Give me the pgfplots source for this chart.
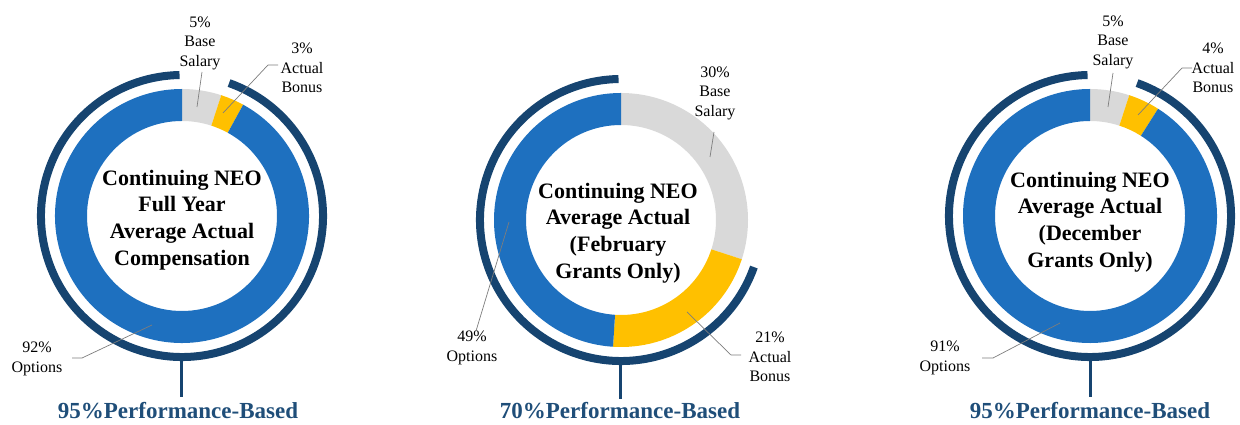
\documentclass[border=0pt]{standalone}
\usepackage{pgfplots}
\usepackage{pgfplotstable}
\pgfplotsset{compat=1.18}
\usepackage{fontspec}
\setmainfont{Liberation Serif}

\definecolor{cblue}{RGB}{30,112,191}
\definecolor{cnavy}{RGB}{22,68,112}
\definecolor{cgray}{RGB}{217,217,217}
\definecolor{cgold}{RGB}{255,192,0}
\definecolor{ctext}{RGB}{31,78,121}
\definecolor{cline}{RGB}{125,125,125}

% shares (percent): Base Salary, Actual Bonus, Options
\pgfplotstableread{
part value
Salary 5
Bonus 3
Options 92
}\dataA
\pgfplotstableread{
part value
Salary 30
Bonus 21
Options 49
}\dataB
\pgfplotstableread{
part value
Salary 5
Bonus 4
Options 91
}\dataC

\newcommand\angles[3]{% table, name a, name b
  \pgfplotstablegetelem{0}{value}\of{#1}\pgfmathsetmacro\tmpS{\pgfplotsretval}%
  \pgfplotstablegetelem{1}{value}\of{#1}\pgfmathsetmacro\tmpB{\pgfplotsretval}%
  \pgfmathsetmacro#2{90-3.6*\tmpS}%
  \pgfmathsetmacro#3{90-3.6*(\tmpS+\tmpB)}%
}

% cx, cy, angle a, angle b
\newcommand\donut[4]{%
  \fill[cgray] ([shift={(90:127pt)}]axis cs:#1,#2) arc[start angle=90, end angle=#3, radius=127pt]
     -- ([shift={(#3:95pt)}]axis cs:#1,#2) arc[start angle=#3, end angle=90, radius=95pt] -- cycle;
  \fill[cgold] ([shift={(#3:127pt)}]axis cs:#1,#2) arc[start angle=#3, end angle=#4, radius=127pt]
     -- ([shift={(#4:95pt)}]axis cs:#1,#2) arc[start angle=#4, end angle=#3, radius=95pt] -- cycle;
  \fill[cblue] ([shift={(#4:127pt)}]axis cs:#1,#2) arc[start angle=#4, end angle=-270, radius=127pt]
     -- ([shift={(-270:95pt)}]axis cs:#1,#2) arc[start angle=-270, end angle=#4, radius=95pt] -- cycle;
  \draw[cnavy, line width=8pt] ([shift={({#3-1.5}:141pt)}]axis cs:#1,#2) arc[start angle={#3-1.5}, end angle=-269, radius=141pt];
}

\begin{document}
\begin{tikzpicture}
\angles{\dataA}{\Aa}{\Ab}
\angles{\dataB}{\Ba}{\Bb}
\angles{\dataC}{\Ca}{\Cb}
\begin{axis}[x=1pt, y=1pt, xmin=0, xmax=1240, ymin=0, ymax=425,
  hide axis, clip=false,
  every node/.append style={inner sep=0pt, outer sep=0pt}]
\path (axis cs:0,0) rectangle (axis cs:1240,425);

% ---------- chart 1
\donut{182}{209}{\Aa}{\Ab}
\draw[cnavy, line width=3pt] (axis cs:181,64) -- (axis cs:181,28);
\node[font=\bfseries\fontsize{22}{26.7}\selectfont, align=center] at (axis cs:182,205)
  {Continuing NEO\\Full Year\\Average Actual\\Compensation};
\node[font=\bfseries\fontsize{23}{26}\selectfont, text=ctext, anchor=base] at (axis cs:178,6)
  {95\%Performance-Based};
\node[font=\fontsize{16}{19.5}\selectfont, align=center] at (axis cs:200,382) {5\%\\Base\\Salary};
\node[font=\fontsize{16}{19.5}\selectfont, align=center] at (axis cs:302,357) {3\%\\Actual\\Bonus};
\node[font=\fontsize{16}{19.5}\selectfont, align=center] at (axis cs:37,66) {92\%\\Options};
\draw[cline, line width=0.7pt] (axis cs:202,353) -- (axis cs:197,318);
\draw[cline, line width=0.7pt] (axis cs:278,360) -- (axis cs:268,360) -- (axis cs:223,312);
\draw[cline, line width=0.7pt] (axis cs:72,67) -- (axis cs:82,67) -- (axis cs:152,100);

% ---------- chart 2
\donut{621}{205}{\Ba}{\Bb}
\draw[cnavy, line width=3pt] (axis cs:620,60) -- (axis cs:620,26);
\node[font=\bfseries\fontsize{22}{26.7}\selectfont, align=center] at (axis cs:618,192)
  {Continuing NEO\\Average Actual\\(February\\Grants Only)};
\node[font=\bfseries\fontsize{23}{26}\selectfont, text=ctext, anchor=base] at (axis cs:620,6)
  {70\%Performance-Based};
\node[font=\fontsize{16}{19.5}\selectfont, align=center] at (axis cs:715,332) {30\%\\Base\\Salary};
\node[font=\fontsize{16}{19.5}\selectfont, align=center] at (axis cs:770,68) {21\%\\Actual\\Bonus};
\node[font=\fontsize{16}{19.5}\selectfont, align=center] at (axis cs:472,77) {49\%\\Options};
\draw[cline, line width=0.7pt] (axis cs:714,293) -- (axis cs:710,268);
\draw[cline, line width=0.7pt] (axis cs:741,70) -- (axis cs:731,70) -- (axis cs:687,113);
\draw[cline, line width=0.7pt] (axis cs:476,94) -- (axis cs:509,203);

% ---------- chart 3
\donut{1090}{209}{\Ca}{\Cb}
\draw[cnavy, line width=3pt] (axis cs:1090,64) -- (axis cs:1090,28);
\node[font=\bfseries\fontsize{22}{26.7}\selectfont, align=center] at (axis cs:1090,203)
  {Continuing NEO\\Average Actual\\(December\\Grants Only)};
\node[font=\bfseries\fontsize{23}{26}\selectfont, text=ctext, anchor=base] at (axis cs:1090,6)
  {95\%Performance-Based};
\node[font=\fontsize{16}{19.5}\selectfont, align=center] at (axis cs:1113,383) {5\%\\Base\\Salary};
\node[font=\fontsize{16}{19.5}\selectfont, align=center] at (axis cs:1213,357) {4\%\\Actual\\Bonus};
\node[font=\fontsize{16}{19.5}\selectfont, align=center] at (axis cs:945,67) {91\%\\Options};
\draw[cline, line width=0.7pt] (axis cs:1113,352) -- (axis cs:1108,318);
\draw[cline, line width=0.7pt] (axis cs:1192,357) -- (axis cs:1182,357) -- (axis cs:1138,310);
\draw[cline, line width=0.7pt] (axis cs:982,67) -- (axis cs:993,67) -- (axis cs:1060,102);
\end{axis}
\pgfresetboundingbox
\path (0,0) rectangle (1240pt,425pt);
\end{tikzpicture}
\end{document}
